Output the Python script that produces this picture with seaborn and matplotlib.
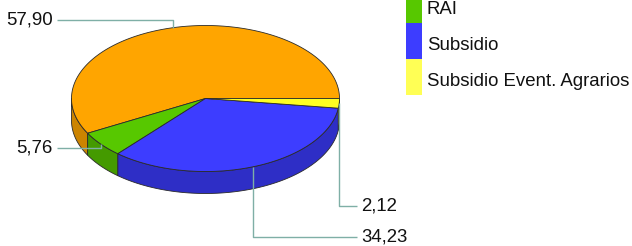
import numpy as np
import matplotlib
matplotlib.use("Agg")
import matplotlib.pyplot as plt
from matplotlib.patches import Polygon, Rectangle
import seaborn as sns

sns.set_theme(style="white")
plt.rcParams['font.family'] = ['Liberation Sans', 'DejaVu Sans']

# ---- data ----
categories = ["Prestación contributiva", "RAI", "Subsidio", "Subsidio Event. Agrarios"]
values = [57.90, 5.76, 34.23, 2.12]
value_labels = ["57,90", "5,76", "34,23", "2,12"]

# ---- style ----
top_colors = sns.color_palette(["#FFA500", "#57C800", "#3D3DFF", "#FFFF22"])
side_colors = sns.color_palette(["#CC8400", "#449A00", "#2E2EC6", "#CCCC10"])
legend_colors = sns.color_palette(["#FFA500", "#57C800", "#3D3DFF", "#FFFF55"])
label_y = [20, 148, 237, 206]          # layout of the value labels (pixels)

W, H = 632, 246
fig = plt.figure(figsize=(W / 100, H / 100), dpi=100)
ax = fig.add_axes([0, 0, 1, 1])
ax.set_xlim(0, W)
ax.set_ylim(H, 0)
ax.axis('off')

cx, cy, a, b, depth = 205.5, 98.5, 134.0, 73.0, 22.0
edge = "#2a2a2a"
fs = 13.4

vals = np.array(values, dtype=float)
frac = vals / vals.sum()
bounds = np.concatenate([[0], np.cumsum(frac)]) * 360.0


def pt(t_deg, dy=0.0):
    t = np.radians(t_deg)
    return cx + a * np.cos(t), cy - b * np.sin(t) + dy


# side walls (front half: 180..360 degrees)
for i in range(len(vals)):
    t1, t2 = bounds[i], bounds[i + 1]
    lo, hi = max(t1, 180.0), min(t2, 360.0)
    if lo < hi:
        ts = np.linspace(lo, hi, 100)
        xs, ys = pt(ts)
        top = np.column_stack([xs, ys])
        bot = np.column_stack([xs, ys + depth])[::-1]
        ax.add_patch(Polygon(np.vstack([top, bot]), closed=True,
                             facecolor=side_colors[i], edgecolor=edge,
                             linewidth=0.6, zorder=2))

# top faces
for i in range(len(vals)):
    t1, t2 = bounds[i], bounds[i + 1]
    ts = np.linspace(t1, t2, 200)
    xs, ys = pt(ts)
    poly = np.vstack([[cx, cy], np.column_stack([xs, ys])])
    ax.add_patch(Polygon(poly, closed=True, facecolor=top_colors[i],
                         edgecolor=edge, linewidth=0.6, zorder=3))

# leader lines and value labels
line_color = "#7FAFA6"
for i in range(len(vals)):
    mid = (bounds[i] + bounds[i + 1]) / 2
    px, py = pt(mid)
    ly = label_y[i]
    left = np.cos(np.radians(mid)) < 0
    ex = 57 if left else 357
    ax.plot([px, px, ex], [py, ly, ly], color=line_color, lw=1.0,
            zorder=4, solid_capstyle='butt')
    if left:
        ax.text(ex - 4, ly, value_labels[i], ha='right', va='center',
                fontsize=fs, color='#111111', zorder=5)
    else:
        ax.text(ex + 4, ly, value_labels[i], ha='left', va='center',
                fontsize=fs, color='#111111', zorder=5)

# legend (first row lies above the visible canvas)
leg_x, leg_y0, row_h = 406, -49, 36
for i, name in enumerate(categories):
    top_y = leg_y0 + i * row_h
    if top_y + row_h <= 0:
        continue
    ax.add_patch(Rectangle((leg_x, top_y), 16, row_h,
                           facecolor=legend_colors[i], edgecolor='none',
                           zorder=3))
    ax.text(leg_x + 21, top_y + row_h / 2 + 4.5, name, ha='left', va='center',
            fontsize=fs, color='#111111')

fig.savefig("out.png", dpi=100)
